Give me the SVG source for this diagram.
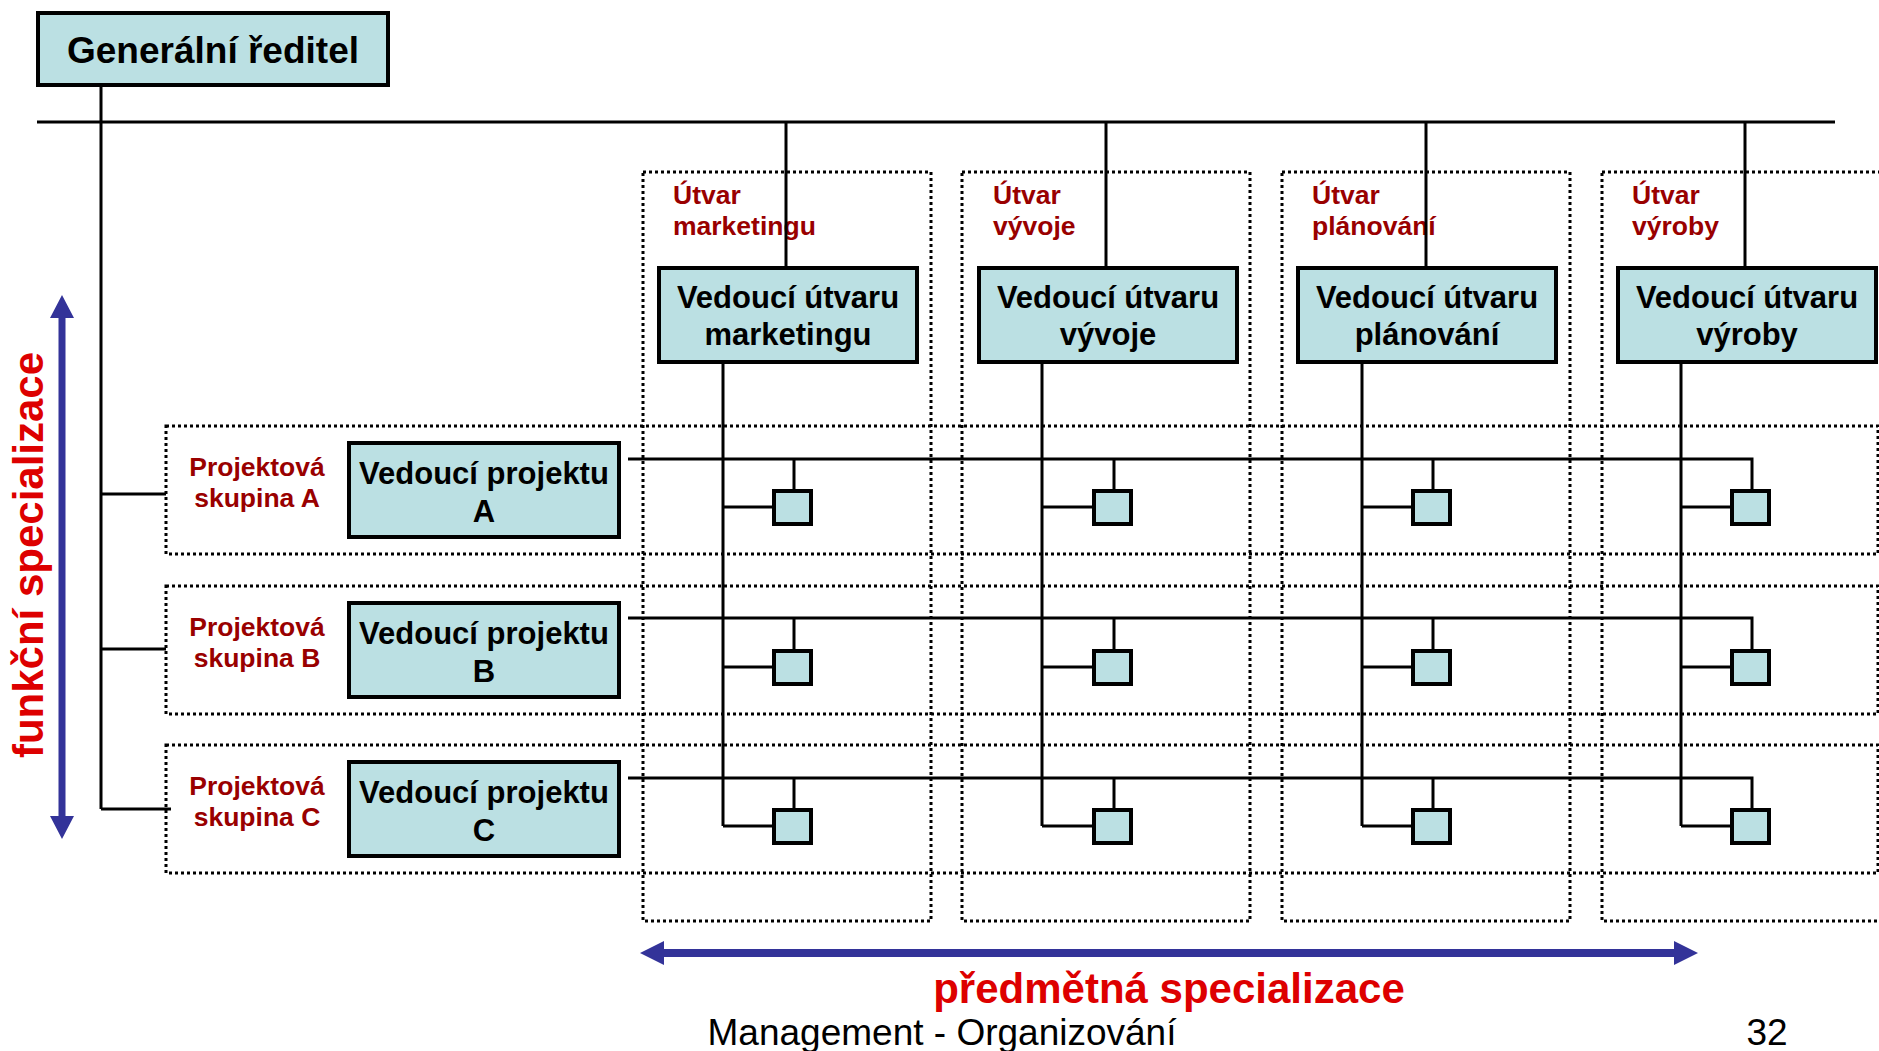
<svg xmlns="http://www.w3.org/2000/svg" width="1879" height="1051" viewBox="0 0 1879 1051">
<defs>
<style>
text{font-family:"Liberation Sans",Arial,sans-serif;}
.dot{fill:none;stroke:#000;stroke-width:3;stroke-dasharray:3 3;}
.ln{fill:none;stroke:#000;stroke-width:3;}
.box{fill:#BBE0E3;stroke:#000;stroke-width:4;}
.cell{fill:#BBE0E3;stroke:#000;stroke-width:4;}
.bt{font-weight:bold;font-size:31px;fill:#000;text-anchor:middle;}
.lab{font-weight:bold;font-size:26.5px;fill:#990000;}
.labc{font-weight:bold;font-size:26.5px;fill:#990000;text-anchor:middle;}
.big{font-weight:bold;font-size:42px;fill:#DD0000;text-anchor:middle;}
.arrow{fill:#333399;}
</style>
</defs>
<rect width="1879" height="1051" fill="#fff"/>

<g id="frames">
<rect class="dot" x="643" y="172" width="288" height="749"/>
<rect class="dot" x="962" y="172" width="288" height="749"/>
<rect class="dot" x="1282" y="172" width="288" height="749"/>
<rect class="dot" x="1602" y="172" width="288" height="749"/>
<rect class="dot" x="166" y="426" width="1712" height="128"/>
<rect class="dot" x="166" y="586" width="1712" height="128"/>
<rect class="dot" x="166" y="745" width="1712" height="128"/>
</g>

<g id="frame-labels">
<text class="lab" x="673" y="204">Útvar</text>
<text class="lab" x="673" y="235">marketingu</text>
<text class="lab" x="993" y="204">Útvar</text>
<text class="lab" x="993" y="235">vývoje</text>
<text class="lab" x="1312" y="204">Útvar</text>
<text class="lab" x="1312" y="235">plánování</text>
<text class="lab" x="1632" y="204">Útvar</text>
<text class="lab" x="1632" y="235">výroby</text>
<text class="labc" x="257" y="476">Projektová</text>
<text class="labc" x="257" y="507">skupina A</text>
<text class="labc" x="257" y="635.5">Projektová</text>
<text class="labc" x="257" y="666.5">skupina B</text>
<text class="labc" x="257" y="795">Projektová</text>
<text class="labc" x="257" y="826">skupina C</text>
</g>

<g id="connectors">
<line class="ln" x1="37" y1="122" x2="1835" y2="122" stroke="#222"/>
<line class="ln" x1="101" y1="85" x2="101" y2="809"/>
<line class="ln" x1="101" y1="494" x2="166" y2="494"/>
<line class="ln" x1="101" y1="649" x2="166" y2="649"/>
<line class="ln" x1="101" y1="809" x2="171" y2="809"/>
<line class="ln" x1="786" y1="122" x2="786" y2="268"/>
<line class="ln" x1="1106" y1="122" x2="1106" y2="268"/>
<line class="ln" x1="1426" y1="122" x2="1426" y2="268"/>
<line class="ln" x1="1745" y1="122" x2="1745" y2="268"/>
<line class="ln" x1="723" y1="362" x2="723" y2="826"/>
<line class="ln" x1="1042" y1="362" x2="1042" y2="826"/>
<line class="ln" x1="1362" y1="362" x2="1362" y2="826"/>
<line class="ln" x1="1681" y1="362" x2="1681" y2="826"/>
<polyline class="ln" points="628,459 1752,459 1752,491"/>
<polyline class="ln" points="628,618 1752,618 1752,651"/>
<polyline class="ln" points="628,778 1752,778 1752,810"/>
<line class="ln" x1="794" y1="459" x2="794" y2="491"/>
<line class="ln" x1="1114" y1="459" x2="1114" y2="491"/>
<line class="ln" x1="1433" y1="459" x2="1433" y2="491"/>
<line class="ln" x1="794" y1="618" x2="794" y2="651"/>
<line class="ln" x1="1114" y1="618" x2="1114" y2="651"/>
<line class="ln" x1="1433" y1="618" x2="1433" y2="651"/>
<line class="ln" x1="794" y1="778" x2="794" y2="810"/>
<line class="ln" x1="1114" y1="778" x2="1114" y2="810"/>
<line class="ln" x1="1433" y1="778" x2="1433" y2="810"/>
<line class="ln" x1="723" y1="507" x2="774" y2="507"/>
<line class="ln" x1="1042" y1="507" x2="1094" y2="507"/>
<line class="ln" x1="1362" y1="507" x2="1413" y2="507"/>
<line class="ln" x1="1681" y1="507" x2="1732" y2="507"/>
<line class="ln" x1="723" y1="667" x2="774" y2="667"/>
<line class="ln" x1="1042" y1="667" x2="1094" y2="667"/>
<line class="ln" x1="1362" y1="667" x2="1413" y2="667"/>
<line class="ln" x1="1681" y1="667" x2="1732" y2="667"/>
<line class="ln" x1="723" y1="826" x2="774" y2="826"/>
<line class="ln" x1="1042" y1="826" x2="1094" y2="826"/>
<line class="ln" x1="1362" y1="826" x2="1413" y2="826"/>
<line class="ln" x1="1681" y1="826" x2="1732" y2="826"/>
</g>

<g id="gr">
<rect class="box" x="38" y="13" width="350" height="72"/>
<text class="bt" x="213" y="63" style="font-size:37px">Generální ředitel</text>
</g>

<g id="vedouci-marketingu">
<rect class="box" x="659" y="268" width="258" height="94"/>
<text class="bt" x="788" y="308">Vedoucí útvaru</text>
<text class="bt" x="788" y="345">marketingu</text>
</g>
<g id="vedouci-vyvoje">
<rect class="box" x="979" y="268" width="258" height="94"/>
<text class="bt" x="1108" y="308">Vedoucí útvaru</text>
<text class="bt" x="1108" y="345">vývoje</text>
</g>
<g id="vedouci-planovani">
<rect class="box" x="1298" y="268" width="258" height="94"/>
<text class="bt" x="1427" y="308">Vedoucí útvaru</text>
<text class="bt" x="1427" y="345">plánování</text>
</g>
<g id="vedouci-vyroby">
<rect class="box" x="1618" y="268" width="258" height="94"/>
<text class="bt" x="1747" y="308">Vedoucí útvaru</text>
<text class="bt" x="1747" y="345">výroby</text>
</g>

<g id="projekt-a">
<rect class="box" x="349" y="443" width="270" height="94"/>
<text class="bt" x="484" y="484">Vedoucí projektu</text>
<text class="bt" x="484" y="522">A</text>
</g>
<g id="projekt-b">
<rect class="box" x="349" y="603" width="270" height="94"/>
<text class="bt" x="484" y="643.5">Vedoucí projektu</text>
<text class="bt" x="484" y="681.5">B</text>
</g>
<g id="projekt-c">
<rect class="box" x="349" y="762" width="270" height="94"/>
<text class="bt" x="484" y="803">Vedoucí projektu</text>
<text class="bt" x="484" y="841">C</text>
</g>

<g id="cells">
<rect id="cell-a1" class="cell" x="774" y="491" width="37" height="33"/>
<rect id="cell-a2" class="cell" x="1094" y="491" width="37" height="33"/>
<rect id="cell-a3" class="cell" x="1413" y="491" width="37" height="33"/>
<rect id="cell-a4" class="cell" x="1732" y="491" width="37" height="33"/>
<rect id="cell-b1" class="cell" x="774" y="651" width="37" height="33"/>
<rect id="cell-b2" class="cell" x="1094" y="651" width="37" height="33"/>
<rect id="cell-b3" class="cell" x="1413" y="651" width="37" height="33"/>
<rect id="cell-b4" class="cell" x="1732" y="651" width="37" height="33"/>
<rect id="cell-c1" class="cell" x="774" y="810" width="37" height="33"/>
<rect id="cell-c2" class="cell" x="1094" y="810" width="37" height="33"/>
<rect id="cell-c3" class="cell" x="1413" y="810" width="37" height="33"/>
<rect id="cell-c4" class="cell" x="1732" y="810" width="37" height="33"/>
</g>

<g id="axes">
<polygon class="arrow" points="62,295 74,318 65.5,318 65.5,816 74,816 62,839 50,816 58.5,816 58.5,318 50,318"/>
<polygon class="arrow" points="640,953 664,941 664,949 1674,949 1674,941 1698,953 1674,965 1674,957 664,957 664,965"/>
<text class="big" transform="translate(43,555) rotate(-90)" x="0" y="0">funkční specializace</text>
<text class="big" x="1169" y="1003">předmětná specializace</text>
</g>

<g id="footer">
<text x="942" y="1045" text-anchor="middle" font-size="37" fill="#000">Management - Organizování</text>
<text x="1767" y="1045" text-anchor="middle" font-size="37" fill="#000">32</text>
</g>
</svg>
